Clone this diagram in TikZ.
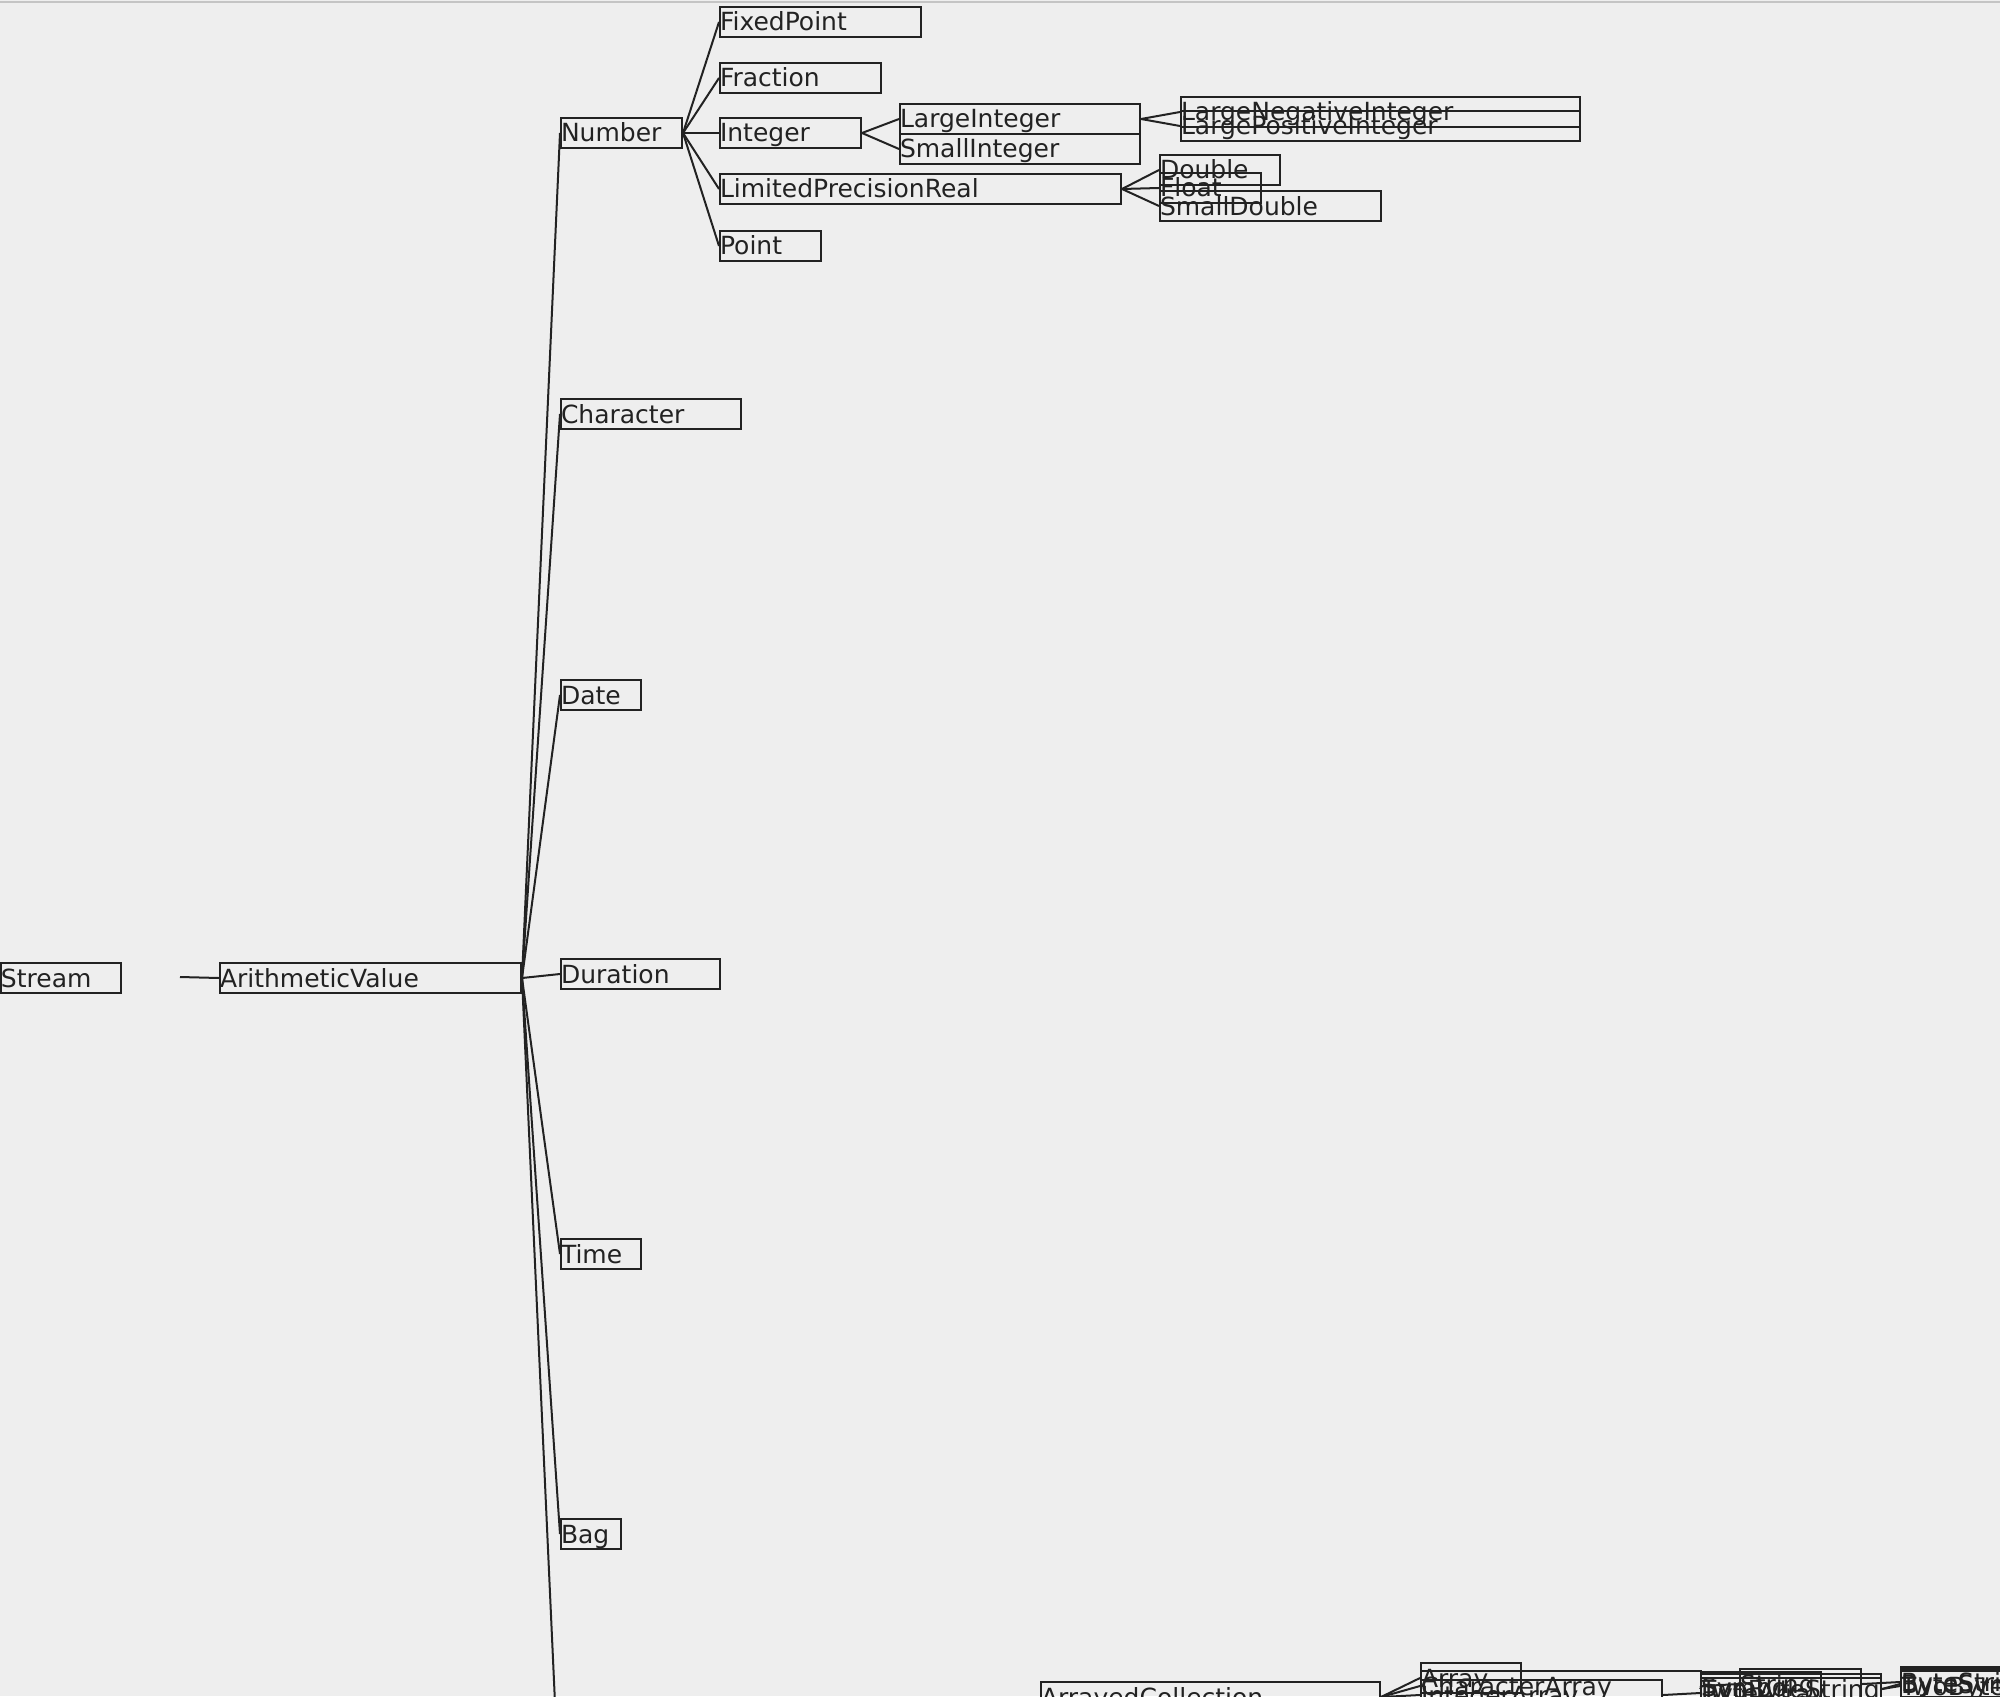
\documentclass[tikz,border=0pt]{standalone}
\usepackage{fontspec}
\setmainfont{DejaVu Sans}
\definecolor{bg}{HTML}{EEEEEE}
\definecolor{ink}{HTML}{222222}
\definecolor{rule}{HTML}{C4C4C4}
\newcommand{\cls}[5]{\node[cls,text width=#4] (#1) at (#2,#3) {\mbox{#5}};}
\begin{document}
\begin{tikzpicture}[x=0.5pt,y=-0.5pt,
  cls/.style={draw=ink, line width=1pt, anchor=north west, inner xsep=0pt, inner ysep=1pt,
    text height=11pt, text depth=2pt, align=left, text=ink, font=\fontsize{12.5}{15}\selectfont},
  link/.style={draw=ink, line width=1pt}]
\path[use as bounding box, fill=bg] (0,0) rectangle (2000,1696);
\clip (0,0) rectangle (2000,1696);
\draw[rule, line width=1pt] (0,2) -- (2000,2);

% left part
\cls{Stream}{0}{962}{60pt}{Stream}
\cls{AV}{219}{962}{150.5pt}{ArithmeticValue}
\coordinate (sIn) at (180,977);
\draw[link] (sIn) -- (AV.west);

% children of ArithmeticValue
\cls{Number}{560}{117}{60.5pt}{Number}
\cls{Character}{560}{398}{90pt}{Character}
\cls{Date}{560}{679}{40pt}{Date}
\cls{Duration}{560}{958}{79.5pt}{Duration}
\cls{Time}{560}{1238}{40pt}{Time}
\cls{Bag}{560}{1518}{30pt}{Bag}
\coordinate (offA) at (560,1813);
\foreach \c in {Number,Character,Date,Duration,Time,Bag}
  \draw[link] (AV.east) -- (\c.west);
\draw[link] (AV.east) -- (offA);

% Number subtree
\cls{FixedPoint}{719}{6}{100.5pt}{FixedPoint}
\cls{Fraction}{719}{62}{80.5pt}{Fraction}
\cls{Integer}{719}{117}{70.5pt}{Integer}
\cls{LPR}{719}{173}{200.5pt}{LimitedPrecisionReal}
\cls{Point}{719}{230}{50.5pt}{Point}
\foreach \c in {FixedPoint,Fraction,Integer,LPR,Point}
  \draw[link] (Number.east) -- (\c.west);

\cls{LargeInteger}{899}{103}{120pt}{LargeInteger}
\cls{SmallInteger}{899}{133}{120pt}{SmallInteger}
\draw[link] (Integer.east) -- (LargeInteger.west);
\draw[link] (Integer.east) -- (SmallInteger.west);

\cls{LNI}{1180}{96}{199.5pt}{LargeNegativeInteger}
\cls{LPI}{1180}{110}{199.5pt}{LargePositiveInteger}
\draw[link] (LargeInteger.east) -- (LNI.west);
\draw[link] (LargeInteger.east) -- (LPI.west);

\cls{Double}{1159}{154}{60pt}{Double}
\cls{Float}{1159}{172}{50.5pt}{Float}
\cls{SmallDouble}{1159}{190}{110.5pt}{SmallDouble}
\foreach \c in {Double,Float,SmallDouble}
  \draw[link] (LPR.east) -- (\c.west);

% bottom-right cluster
\cls{AC}{1040}{1681}{169.5pt}{ArrayedCollection}
\cls{Array}{1420}{1662}{50pt}{Array}
\cls{CharacterArray}{1420}{1670}{140pt}{CharacterArray}
\cls{IntegerArray}{1420}{1679}{120.5pt}{IntegerArray}
\foreach \c in {Array,CharacterArray,IntegerArray}
  \draw[link] (AC.east) -- (\c.west);

\cls{ByteArray}{1700}{1677}{90pt}{ByteArray}
\cls{Symbol}{1700}{1671}{60pt}{Symbol}
\cls{TwoByteString}{1700}{1673}{90pt}{TwoByteString}
\cls{String}{1739}{1668}{60.5pt}{String}
\draw[link] (IntegerArray.east) -- (ByteArray.west);
\foreach \c in {Symbol,TwoByteString,String}
  \draw[link] (CharacterArray.east) -- (\c.west);

\cls{ByteString}{1900}{1666}{75pt}{ByteString}
\cls{ByteSymbol}{1900}{1668}{75pt}{ByteSymbol}
\cls{TwoByteSymbol}{1900}{1670}{75pt}{TwoByteSymbol}
\draw[link] (String.east) -- (ByteString.west);
\draw[link] (TwoByteString.east) -- (ByteSymbol.west);
\draw[link] (TwoByteString.east) -- (TwoByteSymbol.west);
\end{tikzpicture}
\end{document}
